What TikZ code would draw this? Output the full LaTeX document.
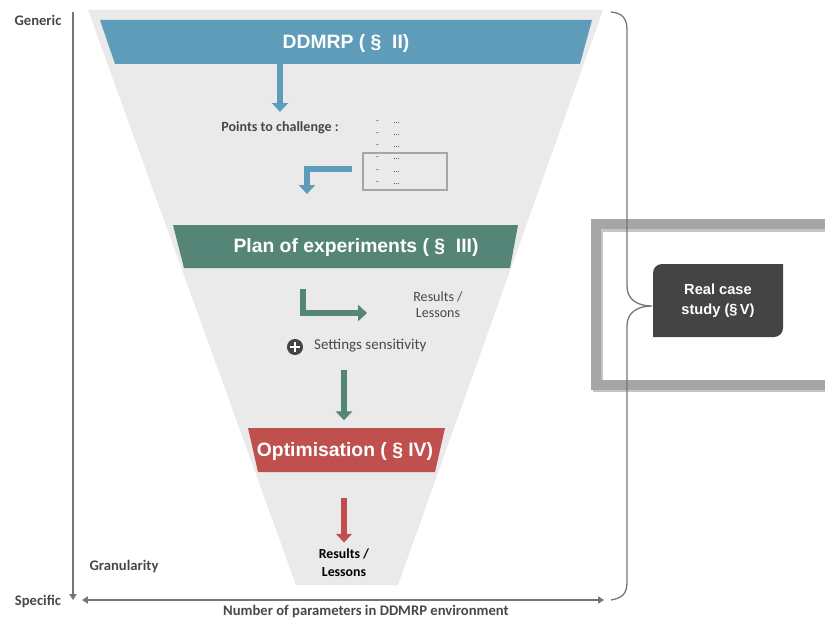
\documentclass[tikz,border=0pt]{standalone}
\usepackage{fontspec}
\setmainfont{Carlito}
\newfontfamily\bandfont{Liberation Sans}
\usetikzlibrary{arrows.meta, positioning}
\definecolor{ddblue}{RGB}{94, 156, 186}
\definecolor{ddgreen}{RGB}{84, 133, 118}
\definecolor{ddred}{RGB}{192, 80, 77}
\definecolor{funnelgray}{RGB}{234, 234, 234}
\definecolor{axisgray}{RGB}{118, 118, 118}
\definecolor{textgray}{RGB}{72, 72, 72}
\definecolor{framegray}{RGB}{166, 166, 166}
\definecolor{casegray}{RGB}{68, 68, 68}

\begin{document}
\begin{tikzpicture}[x=0.03cm, y=-0.03cm,
    bandtext/.style={text=white, font=\bandfont\bfseries\fontsize{16.5}{18}\selectfont},
    lbl/.style={text=textgray, font=\bfseries\fontsize{12.5}{15}\selectfont},
    smalltxt/.style={text=textgray, font=\fontsize{12}{13.7}\selectfont, align=center},
    itemtxt/.style={text=textgray, font=\fontsize{7.5}{8}\selectfont, inner sep=0pt},
    thickarr/.style={line width=4.7pt, -{Triangle[width=13.5pt, length=7.5pt]}},
    axis/.style={axisgray, line width=1.3pt}]
  \useasboundingbox (0,0) rectangle (825,622);
  \clip (0,0) rectangle (825,622);

  % funnel and bands
  \fill[funnelgray] (88,10) -- (603,10) -- (398,585) -- (296,585) -- cycle;
  \fill[ddblue] (100,20) -- (592,20) -- (580,64) -- (115,64) -- cycle;
  \fill[ddgreen] (173,225) -- (518,225) -- (510,268) -- (184,268) -- cycle;
  \fill[ddred] (248,428) -- (445,428) -- (435,472) -- (258,472) -- cycle;

  \node[bandtext] (ddmrp) at (346,44) {DDMRP ( \S\ \ II)};
  \node[bandtext] (plan) at (356,247) {Plan of experiments ( \S\ \ III)};
  \node[bandtext] (optim) at (345,451) {Optimisation ( \S\ IV)};

  % points to challenge
  \node[lbl, font=\bfseries\fontsize{12}{14}\selectfont] (challenge) at (280,128) {Points to challenge :};
  \foreach \i in {0,...,5}
    \node[itemtxt, anchor=west] (item\i) at (376,122+12.2*\i) {-\hspace{4.3mm}...};
  \draw[framegray, line width=2pt] (363,153) rectangle (447,190);

  \draw[ddblue, thickarr] (challenge.north |- ddmrp.south) ++(0,-7) -- ([yshift=5pt]challenge.north);
  \coordinate (bstart) at (352,169);
  \coordinate (bend) at (307,194);
  \draw[ddblue, thickarr] (bstart) -| (bend);

  % plan of experiments
  \node[smalltxt] (res1) at (438,305) {Results /\\Lessons};
  \coordinate (gstart) at (303,289);
  \coordinate (gend) at (367,313);
  \draw[ddgreen, thickarr] (gstart) |- (gend);

  \node[circle, fill=casegray, minimum size=13.7pt, inner sep=0pt] (plus) at (295,347) {};
  \draw[white, line width=2.2pt] ([xshift=-4.5pt]plus.center) -- ([xshift=4.5pt]plus.center);
  \draw[white, line width=2.2pt] ([yshift=-4.5pt]plus.center) -- ([yshift=4.5pt]plus.center);
  \node[smalltxt, anchor=west, font=\fontsize{12.8}{14}\selectfont] (settings) at (310,346) {Settings sensitivity};

  \coordinate (g2start) at (344,370);
  \draw[ddgreen, thickarr] (g2start) -- ([yshift=15pt]g2start |- optim.north);

  % optimisation
  \node[smalltxt, text=black, font=\bfseries\fontsize{11.8}{15.5}\selectfont] (res2) at (344,563) {Results /\\Lessons};
  \draw[ddred, thickarr] ([yshift=-29pt]res2.north |- optim.south) -- ([yshift=2pt]res2.north);

  % axes
  \node[lbl] (generic) at (38,20) {Generic};
  \node[lbl] (specific) at (38,601) {Specific};
  \node[lbl] (granul) at (124,567) {Granularity};
  \node[lbl] (params) at (366,612) {Number of parameters in DDMRP environment};
  \coordinate (vtop) at (73,12);
  \coordinate (vbot) at (73,600);
  \coordinate (hleft) at (82,600);
  \coordinate (hright) at (604,600);
  \draw[axis, -{Triangle[width=6pt, length=5pt]}] (vtop) -- (vbot);
  \draw[axis, {Triangle[width=6pt, length=5pt]}-{Triangle[width=6pt, length=5pt]}] (hleft) -- (hright);

  % real case study
  \draw[black!45, opacity=0.5, line width=8.5pt] (598,227) rectangle (880,387);
  \draw[framegray, line width=8.5pt] (596,224) rectangle (880,385);
  \coordinate (brtip) at (652,306);
  \draw[axis, line width=1.1pt] (611,12) .. controls (622,13) and (627,18) .. (627,30) -- (627,286)
    .. controls (627,300) and (638,306) .. (brtip)
    .. controls (638,306) and (627,312) .. (627,326) -- (627,582)
    .. controls (627,594) and (622,598) .. (611,600);
  \fill[casegray] (653,337) -- (653,273) arc[start angle=180, end angle=270, radius=9]
    -- (783,264) -- (783,328) arc[start angle=0, end angle=90, radius=9] -- cycle;
  \node[text=white, align=center, font=\bandfont\bfseries\fontsize{12.5}{17}\selectfont] (realcase) at (718,301) {Real case\\study (\S\,V)};
\end{tikzpicture}
\end{document}
